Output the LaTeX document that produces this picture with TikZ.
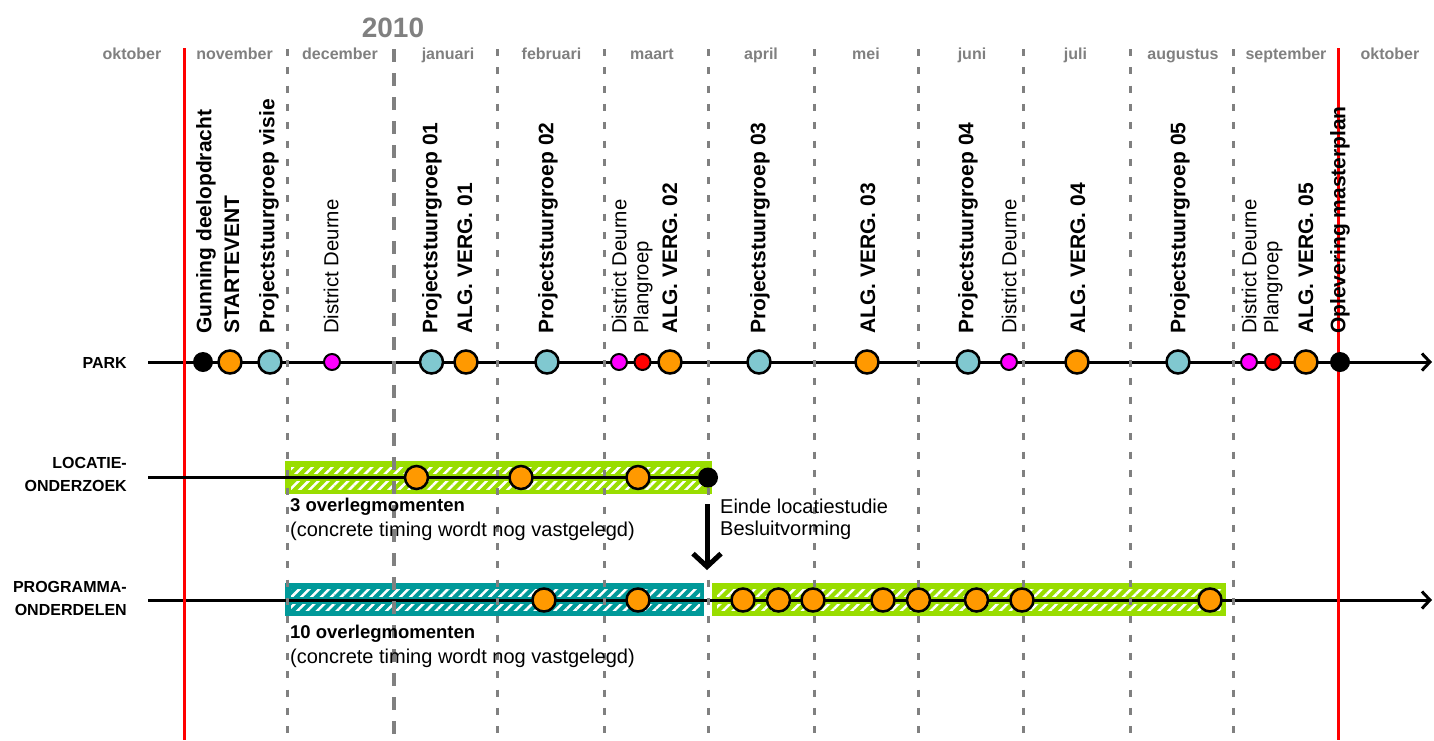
\documentclass[tikz,border=0pt]{standalone}
\usepackage{fontspec}
\setmainfont{Liberation Sans}
\usetikzlibrary{arrows.meta,patterns.meta}
\definecolor{orng}{HTML}{FF9900}
\definecolor{lblue}{HTML}{80C8D0}
\definecolor{mgnt}{HTML}{FF00FF}
\definecolor{lgreen}{HTML}{99DD00}
\definecolor{tealc}{HTML}{009999}
\definecolor{mgray}{HTML}{808080}
\begin{document}
\begin{tikzpicture}[x=1pt,y=-1pt,
  mon/.style={font=\fontsize{16}{19}\selectfont\bfseries,text=mgray,inner sep=0pt,anchor=base},
  gridl/.style={draw=mgray,line width=3pt,dash pattern=on 7pt off 11.3pt},
  yearl/.style={draw=mgray,line width=4pt,dash pattern=on 13pt off 11pt},
  redl/.style={draw=red,line width=3pt},
  tl/.style={draw=black,line width=3pt},
  tlarrow/.style={tl,-{Straight Barb[length=8pt,width=17pt]}},
  big/.style={circle,draw=black,line width=2.5pt,minimum size=23pt,inner sep=0pt},
  sml/.style={circle,draw=black,line width=2pt,minimum size=16pt,inner sep=0pt},
  blk/.style={circle,fill=black,minimum size=20pt,inner sep=0pt},
  lab/.style={rotate=90,anchor=west,inner sep=0pt,font=\fontsize{21}{25}\selectfont\bfseries},
  labr/.style={rotate=90,anchor=west,inner sep=0pt,font=\fontsize{20.3}{24}\selectfont},
  rowlab/.style={anchor=east,align=right,inner sep=0pt,font=\fontsize{16}{23}\selectfont\bfseries},
  hatch/.style={pattern={Lines[angle=45,distance=7pt,line width=2.5pt]},pattern color=white},
  note/.style={anchor=west,inner sep=0pt,font=\fontsize{20}{24}\selectfont},
  noteb/.style={anchor=west,inner sep=0pt,font=\fontsize{18.5}{24}\selectfont\bfseries},
]
\useasboundingbox (0,0) rectangle (1434,740);

% year and months
\node[font=\fontsize{28}{32}\selectfont\bfseries,text=mgray,inner sep=0pt] (year) at (393,28) {2010};
\foreach \n/\x/\t in {m0/132/oktober,m1/234.5/november,m2/340/december,m3/448/januari,
  m4/551.5/februari,m5/652/maart,m6/761/april,m7/866/mei,m8/972/juni,m9/1075.5/juli,
  m10/1183/augustus,m11/1286/september,m12/1390/oktober}
  \node[mon] (\n) at (\x,59) {\t};

% row labels
\node[rowlab] (rPark) at (127,363) {PARK};
\node[rowlab] (rLoc) at (127,474) {LOCATIE-\\ONDERZOEK};
\node[rowlab] (rProg) at (127,598) {PROGRAMMA-\\ONDERDELEN};

% bars
\fill[lgreen] (285,461) rectangle (712,494);
\fill[hatch] (291,467) rectangle (704,489);
\fill[tealc] (285,583) rectangle (704,616);
\fill[hatch] (291,589) rectangle (700,610);
\fill[lgreen] (712,583) rectangle (1226,616);
\fill[hatch] (717,589) rectangle (1221,610);
\draw[lgreen,line width=7pt] (291,477.5) -- (704,477.5);
\draw[tealc,line width=7pt] (291,600) -- (700,600);
\draw[lgreen,line width=7pt] (717,600) -- (1221,600);

% timelines
\coordinate (parkS) at (148,362);
\coordinate (parkE) at (1432,362);
\coordinate (locS) at (148,477.5);
\coordinate (progS) at (148,600);
\coordinate (progE) at (1432,600);
\draw[tlarrow] (parkS) -- (parkE);
\draw[tlarrow] (progS) -- (progE);

% grid lines
\foreach \x in {287.5,497.5,604,708.5,814,918.5,1023.5,1130,1233.5}
  \draw[gridl] (\x,49) -- (\x,740);
\draw[yearl] (394,49) -- (394,740);
\draw[redl] (184,48) -- (184,740);
\draw[redl] (1338.5,48) -- (1338.5,740);

% PARK events
\node[blk] (p1) at (203,362) {};
\node[big,fill=orng] (p2) at (230,362) {};
\node[big,fill=lblue] (p3) at (270,362) {};
\node[sml,fill=mgnt] (p4) at (332,362) {};
\node[big,fill=lblue] (p5) at (431.5,362) {};
\node[big,fill=orng] (p6) at (466,362) {};
\node[big,fill=lblue] (p7) at (547,362) {};
\node[sml,fill=mgnt] (p8) at (619,362) {};
\node[sml,fill=red] (p9) at (642.5,362) {};
\node[big,fill=orng] (p10) at (670,362) {};
\node[big,fill=lblue] (p11) at (759,362) {};
\node[big,fill=orng] (p12) at (867,362) {};
\node[big,fill=lblue] (p13) at (968,362) {};
\node[sml,fill=mgnt] (p14) at (1009,362) {};
\node[big,fill=orng] (p15) at (1077,362) {};
\node[big,fill=lblue] (p16) at (1178,362) {};
\node[sml,fill=mgnt] (p17) at (1249,362) {};
\node[sml,fill=red] (p18) at (1273,362) {};
\node[big,fill=orng] (p19) at (1306,362) {};
\node[blk] (p20) at (1340,362) {};

% LOCATIE events
\node[blk] (l4) at (708,477.5) {};
\draw[tl] (locS) -- (l4);
\node[big,fill=orng] (l1) at (416.5,477.5) {};
\node[big,fill=orng] (l2) at (521,477.5) {};
\node[big,fill=orng] (l3) at (638,477.5) {};

% PROGRAMMA events
\foreach \n/\x in {g1/544,g2/638,g3/743,g4/778.5,g5/813,g6/883,g7/918.5,g8/976.5,g9/1022,g10/1210}
  \node[big,fill=orng] (\n) at (\x,600) {};

% labels
\node[lab] (t1) at (206,334) {Gunning deelopdracht};
\node[lab] (t2) at (232,334) {STARTEVENT};
\node[lab] (t3) at (269,334) {Projectstuurgroep visie};
\node[labr] (t4) at (331,334) {District Deurne};
\node[lab] (t5) at (432,334) {Projectstuurgroep 01};
\node[lab] (t6) at (465,334) {ALG. VERG. 01};
\node[lab] (t7) at (548,334) {Projectstuurgroep 02};
\node[labr] (t8) at (619,334) {District Deurne};
\node[labr] (t9) at (643,334) {Plangroep};
\node[lab] (t10) at (670,334) {ALG. VERG. 02};
\node[lab] (t11) at (760,334) {Projectstuurgroep 03};
\node[lab] (t12) at (868,334) {ALG. VERG. 03};
\node[lab] (t13) at (968,334) {Projectstuurgroep 04};
\node[labr] (t14) at (1009,334) {District Deurne};
\node[lab] (t15) at (1078,334) {ALG. VERG. 04};
\node[lab] (t16) at (1180,334) {Projectstuurgroep 05};
\node[labr] (t17) at (1249,334) {District Deurne};
\node[labr] (t18) at (1273,334) {Plangroep};
\node[lab] (t19) at (1306,334) {ALG. VERG. 05};
\node[lab] (t20) at (1340,334) {Oplevering masterplan};

% notes
\node[noteb] (n1) at (290,507) {3 overlegmomenten};
\node[note] (n2) at (290,531) {(concrete timing wordt nog vastgelegd)};
\node[noteb] (n3) at (290,634) {10 overlegmomenten};
\node[note] (n4) at (290,658) {(concrete timing wordt nog vastgelegd)};
\node[note] (n5) at (720,506) {Einde locatiestudie};
\node[note] (n6) at (720,530) {Besluitvorming};

% decision arrow
\coordinate (aS) at (707,504);
\coordinate (aE) at (707,570);
\draw[line width=5pt,-{Straight Barb[length=13pt,width=28pt]}] (aS) -- (aE);
\end{tikzpicture}
\end{document}
